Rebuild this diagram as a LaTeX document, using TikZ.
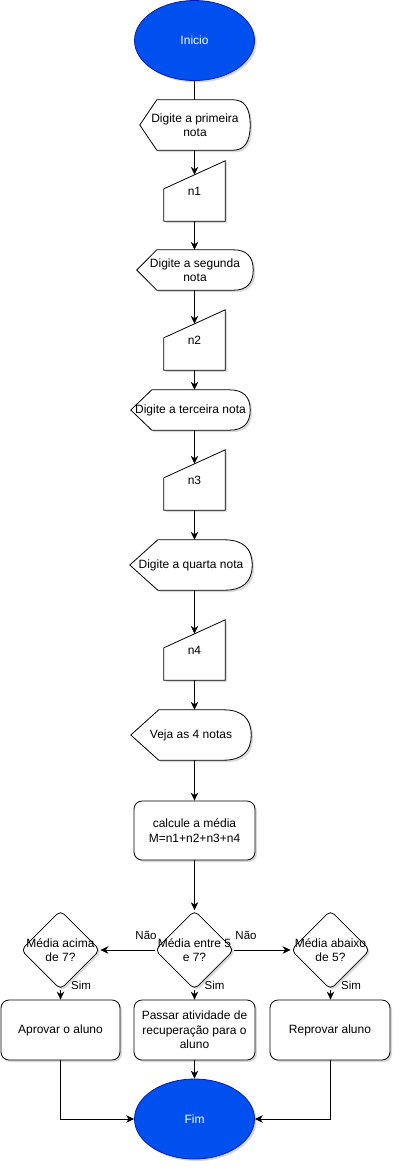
\documentclass[tikz,border=0pt]{standalone}
\usepackage{fontspec}
\setmainfont{Liberation Sans}
\usetikzlibrary{shapes.geometric,arrows.meta,shadows,calc}
\pgfdeclarelayer{bg}
\pgfsetlayers{bg,main}
\definecolor{termfill}{HTML}{0050EF}
\definecolor{termdraw}{HTML}{001DBC}
\tikzset{
  myshadow/.style={drop shadow={shadow xshift=2pt, shadow yshift=-2pt, opacity=0.15, fill=black}},
  base/.style={font=\fontsize{12}{14.5}\selectfont, align=center, inner sep=0pt},
  term/.style={base, ellipse, draw=termdraw, fill=termfill, text=white, line width=0.8pt,
    minimum width=120pt, minimum height=80pt, myshadow},
  ghost/.style={base, rectangle},
  outl/.style={draw=black, line width=0.8pt, fill=white, myshadow},
  procbox/.style={base, rectangle, rounded corners=8pt, draw, line width=0.8pt, fill=white,
    minimum height=60pt, myshadow},
  dia/.style={diamond, aspect=1, draw, line width=0.8pt, fill=white, minimum width=79pt,
    minimum height=79pt, inner sep=0pt, rounded corners=5pt, myshadow},
  lbl/.style={font=\fontsize{11.5}{13}\selectfont, inner sep=0pt},
  conn/.style={draw, line width=0.8pt},
  arr/.style={conn, -{Stealth[length=8pt, width=7.5pt, inset=2.5pt]}},
}
% display outline: node name, dx
\newcommand{\dispout}[2]{%
  \begin{pgfonlayer}{bg}
  \path[outl] (#1.west) -- ([xshift=#2]#1.north west) -- ([xshift=-#2]#1.north east)
    .. controls ($([xshift=-#2]#1.north east)!0.667!(#1.north east)$) and ($(#1.east)!0.667!(#1.north east)$) .. (#1.east)
    .. controls ($(#1.east)!0.667!(#1.south east)$) and ($([xshift=-#2]#1.south east)!0.667!(#1.south east)$) .. ([xshift=-#2]#1.south east)
    -- ([xshift=#2]#1.south west) -- cycle;
  \end{pgfonlayer}}
% manual input outline
\newcommand{\manout}[1]{%
  \begin{pgfonlayer}{bg}
  \path[outl] (#1.south west) -- ([yshift=-28pt]#1.north west) -- (#1.north east) -- (#1.south east) -- cycle;
  \end{pgfonlayer}}
\begin{document}
\begin{tikzpicture}[x=1pt,y=-1pt]
\useasboundingbox (0,0) rectangle (402,1171);

\node[term] (ini) at (194.5,40.5) {Inicio};

\node[ghost, minimum width=110pt, minimum height=50pt] (d1) at (195,125) {Digite a primeira\\nota};
\dispout{d1}{17pt}
\node[ghost, minimum width=61pt, minimum height=60pt] (n1) at (194.5,191) {n1};
\manout{n1}

\node[ghost, minimum width=116pt, minimum height=40pt] (d2) at (195,270) {Digite a segunda\\nota};
\dispout{d2}{20pt}
\node[ghost, minimum width=61pt, minimum height=60pt] (n2) at (194.5,340) {n2};
\manout{n2}

\node[ghost, minimum width=119pt, minimum height=40pt] (d3) at (190.5,410) {Digite a terceira nota};
\dispout{d3}{21pt}
\node[ghost, minimum width=61pt, minimum height=60pt] (n3) at (194.5,480) {n3};
\manout{n3}

\node[ghost, minimum width=122pt, minimum height=50pt] (d4) at (191,565) {Digite a quarta nota};
\dispout{d4}{28pt}
\node[ghost, minimum width=61pt, minimum height=60pt] (n4) at (194.5,650) {n4};
\manout{n4}

\node[ghost, minimum width=120pt, minimum height=50pt] (d5) at (191,735) {Veja as 4 notas};
\dispout{d5}{28pt}

\node[procbox, minimum width=121pt, minimum height=59pt] (calc) at (194.5,830.5) {calcule a média\\M=n1+n2+n3+n4};

\node[dia] (dl) at (60.5,950) {};
\node[base] (dlt) at (dl) {Média acima\\de 7?};
\node[dia] (dm) at (194.5,950) {};
\node[base] (dmt) at (dm) {Média entre 5\\e 7?};
\node[dia] (dr) at (330.5,950) {};
\node[base] (drt) at (dr) {Média abaixo\\de 5?};

\node[procbox, minimum width=119pt] (bl) at (60.5,1030) {Aprovar o aluno};
\node[procbox, minimum width=121pt] (bm) at (194.5,1030) {Passar atividade de\\recuperação para o\\aluno};
\node[procbox, minimum width=120pt] (br) at (330,1030) {Reprovar aluno};

\node[term] (fim) at (194.5,1119) {Fim};

% connectors
\draw[conn] (ini.south) -- (ini.south |- d1.north);
\draw[arr] (d1.south -| n1.north) -- ([yshift=-14pt]n1.north);
\draw[arr] (n1.south) -- (n1.south |- d2.north);
\draw[arr] (d2.south -| n2.north) -- ([yshift=-14pt]n2.north);
\draw[arr] (n2.south) -- (n2.south |- d3.north);
\draw[arr] (d3.south -| n3.north) -- ([yshift=-14pt]n3.north);
\draw[arr] (n3.south) -- (n3.south |- d4.north);
\draw[arr] (d4.south -| n4.north) -- ([yshift=-14pt]n4.north);
\draw[arr] (n4.south) -- (n4.south |- d5.north);
\draw[arr] (d5.south -| calc.north) -- (calc.north);
\draw[arr] (calc.south) -- (dm.north);
\draw[arr] (dm.west) -- (dl.east);
\draw[arr] (dm.east) -- (dr.west);
\draw[arr] (dl.south) -- (bl.north);
\draw[arr] (dm.south) -- (bm.north);
\draw[arr] (dr.south) -- (br.north -| dr.south);
\draw[arr] (bm.south) -- (fim.north);
\draw[arr] (bl.south) |- (fim.west);
\draw[arr] (br.south -| dr.south) |- (fim.east);

% edge labels
\node[lbl] (nao1) at (146,935) {Não};
\node[lbl] (nao2) at (246,935) {Não};
\node[lbl] (sim1) at (81,985) {Sim};
\node[lbl] (sim2) at (214.5,985) {Sim};
\node[lbl] (sim3) at (351,985) {Sim};
\end{tikzpicture}
\end{document}
